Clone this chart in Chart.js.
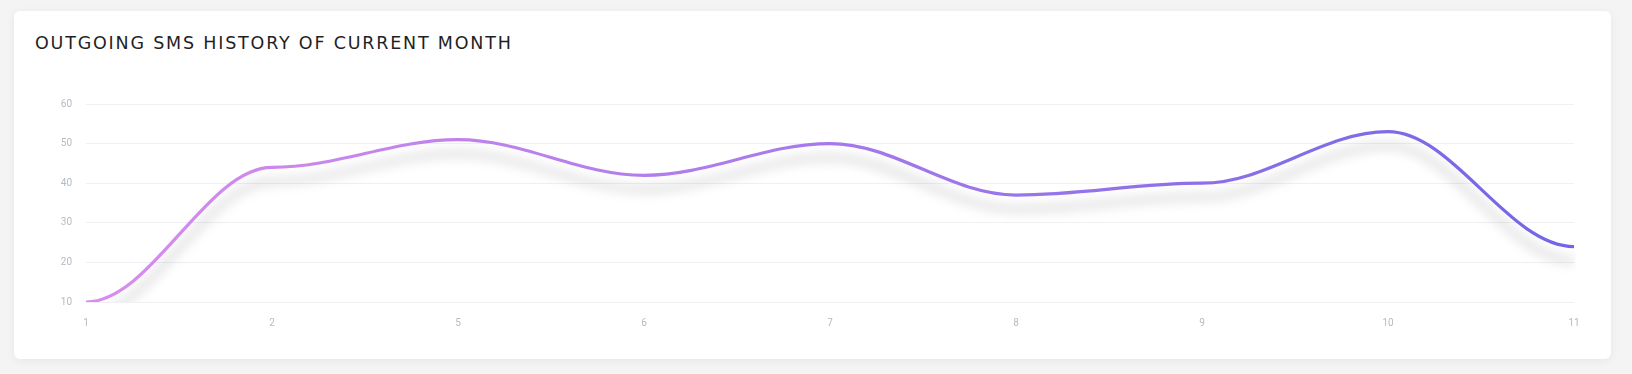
<!DOCTYPE html>
<html>
<head>
<meta charset="utf-8">
<script src="https://cdn.jsdelivr.net/npm/chart.js@4.4.0/dist/chart.umd.min.js"></script>
<style>
  html, body { margin: 0; padding: 0; background: #f4f4f5; width: 1632px; height: 374px; overflow: hidden; }
  .card { position: absolute; left: 14px; top: 11px; width: 1597px; height: 348px; background: #fff;
          border-radius: 6px; box-shadow: 0 2px 10px rgba(0,0,0,0.06); }
  .title { position: absolute; left: 21px; top: 22px; font-family: "DejaVu Sans", sans-serif; font-size: 17.5px;
           font-weight: normal; letter-spacing: 1.8px; color: #1f1f24; white-space: nowrap; }
  .wrap { position: absolute; left: 0; top: 49px; width: 1597px; height: 282px; }
</style>
</head>
<body>
<div class="card">
  <div class="title">OUTGOING SMS HISTORY OF CURRENT MONTH</div>
  <div class="wrap"><canvas id="c"></canvas></div>
</div>
<script>
const categories = ["1", "2", "5", "6", "7", "8", "9", "10", "11"];
const smsValues = [10, 44, 51, 42, 50, 37, 40, 53, 24];
const yTicks = [10, 20, 30, 40, 50, 60];

// shadow under the line
const shadowPlugin = {
  id: 'lineShadow',
  beforeDatasetDraw(chart) {
    const ctx = chart.ctx;
    ctx.save();
    ctx.shadowColor = 'rgba(0,0,0,0.27)';
    ctx.shadowBlur = 12;
    ctx.shadowOffsetX = 0;
    ctx.shadowOffsetY = 14;
  },
  afterDatasetDraw(chart) {
    chart.ctx.restore();
  }
};

// smooth curve with horizontal tangents at every point (control points derived from the scale positions)
const smoothPlugin = {
  id: 'hSmooth',
  beforeDatasetDraw(chart, args) {
    const meta = chart.getDatasetMeta(args.index);
    const line = meta.dataset;
    const pts = meta.data;
    if (!line || !pts.length) return;
    line.updateControlPoints(chart.chartArea, 'x');
    const k = 0.35;
    for (let i = 0; i < pts.length; i++) {
      const p = pts[i];
      const prev = pts[i - 1], next = pts[i + 1];
      const dPrev = prev ? (p.x - prev.x) : 0;
      const dNext = next ? (next.x - p.x) : 0;
      p.cp1x = p.x - dPrev * k; p.cp1y = p.y;
      p.cp2x = p.x + dNext * k; p.cp2y = p.y;
    }
    line._path = undefined;
  }
};

new Chart(document.getElementById('c'), {
  type: 'line',
  data: {
    labels: categories,
    datasets: [{
      data: smsValues,
      borderWidth: 3.2,
      pointRadius: 0,
      pointHoverRadius: 0,
      fill: false,
      tension: 0.4,
      borderColor(ctx) {
        const a = ctx.chart.chartArea;
        if (!a) return '#a47be8';
        const g = ctx.chart.ctx.createLinearGradient(a.left, 0, a.right, 0);
        g.addColorStop(0, '#d98cef');
        g.addColorStop(1, '#7266e6');
        return g;
      }
    }]
  },
  options: {
    responsive: true,
    maintainAspectRatio: false,
    animation: false,
    layout: { padding: { top: 44, right: 37, left: 0, bottom: 0 } },
    plugins: { legend: { display: false }, tooltip: { enabled: false } },
    scales: {
      x: {
        grid: { display: false, drawTicks: false },
        border: { display: false },
        ticks: { color: '#b4bbc5', font: { family: 'Roboto', size: 10 }, padding: 15, maxRotation: 0 },
        afterFit(s) { s.height = 40; }
      },
      y: {
        min: 10, max: 60,
        afterBuildTicks(s) { s.ticks = yTicks.map(v => ({ value: v })); },
        grid: { color: '#eef0f4', drawTicks: false, lineWidth: 1 },
        border: { display: false },
        ticks: { color: '#b4bbc5', font: { family: 'Roboto', size: 10 }, padding: 14 },
        afterFit(s) { s.width = 72; }
      }
    }
  },
  plugins: [smoothPlugin, shadowPlugin]
});
</script>
</body>
</html>
